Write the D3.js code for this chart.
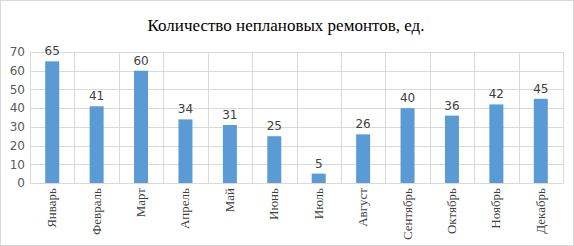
<!DOCTYPE html>
<html><head><meta charset="utf-8">
<script src="https://cdn.jsdelivr.net/npm/d3@7"></script>
<style>body{margin:0;background:#fff}svg{display:block}</style>
</head><body>
<script>
const categories = ["Январь","Февраль","Март","Апрель","Май","Июнь","Июль","Август","Сентябрь","Октябрь","Ноябрь","Декабрь"];
const values = [65,41,60,34,31,25,5,26,40,36,42,45];
const yTicks = [0,10,20,30,40,50,60,70];
const title = "Количество неплановых ремонтов, ед.";

const W = 574, H = 246;
const m = {left:30, right:11, top:52, bottom:63};
const svg = d3.select("body").append("svg").attr("width",W).attr("height",H);
svg.append("rect").attr("x",0.5).attr("y",0.5).attr("width",W-1).attr("height",H-1)
  .attr("fill","#fff").attr("stroke","#d9d9d9");

const x = d3.scaleBand().domain(categories).range([m.left, W-m.right]).paddingInner(0).paddingOuter(0);
const y = d3.scaleLinear().domain([0,70]).range([H-m.bottom, m.top]);

svg.append("g").selectAll("line").data(yTicks).join("line")
  .attr("x1",m.left).attr("x2",W-m.right)
  .attr("y1",d=>Math.round(y(d))+0.5).attr("y2",d=>Math.round(y(d))+0.5)
  .attr("stroke","#d9d9d9");
const bounds = categories.map(c=>x(c)).concat([W-m.right]);
svg.append("g").selectAll("line").data(bounds).join("line")
  .attr("x1",d=>Math.round(d)+0.5).attr("x2",d=>Math.round(d)+0.5)
  .attr("y1",m.top).attr("y2",H-m.bottom)
  .attr("stroke","#d9d9d9");

const bw = 14;
svg.append("g").selectAll("rect").data(values).join("rect")
  .attr("x",(d,i)=>x(categories[i])+x.bandwidth()/2-bw/2)
  .attr("y",d=>y(d)).attr("width",bw).attr("height",d=>y(0)-y(d))
  .attr("fill","#5b9bd5");

svg.append("g").selectAll("text").data(values).join("text")
  .attr("x",(d,i)=>x(categories[i])+x.bandwidth()/2)
  .attr("y",d=>y(d)-6)
  .attr("text-anchor","middle")
  .attr("font-family","DejaVu Sans, sans-serif").attr("font-size",12).attr("fill","#404040")
  .text(d=>d);

const yAxis = d3.axisLeft(y).tickValues(yTicks).tickSize(0).tickPadding(5);
const gy = svg.append("g").attr("transform",`translate(${m.left},0)`).call(yAxis);
gy.select(".domain").remove();
gy.selectAll("text").attr("font-family","DejaVu Sans, sans-serif").attr("font-size",12).attr("fill","#595959");

const xAxis = d3.axisBottom(x).tickSize(0).tickPadding(0);
const gx = svg.append("g").attr("transform",`translate(0,${H-m.bottom})`).call(xAxis);
gx.select(".domain").attr("stroke","#d9d9d9");
gx.selectAll("text")
  .attr("font-family","Liberation Serif, serif").attr("font-size",13).attr("fill","#404040")
  .attr("text-anchor","end").attr("dy",null)
  .attr("transform","translate(4,5) rotate(-90)")
  .attr("x",0).attr("y",0);

svg.append("text").attr("x",286).attr("y",31).attr("text-anchor","middle")
  .attr("font-family","Liberation Serif, serif").attr("font-size",17).attr("fill","#000")
  .text(title);
</script>
</body></html>
